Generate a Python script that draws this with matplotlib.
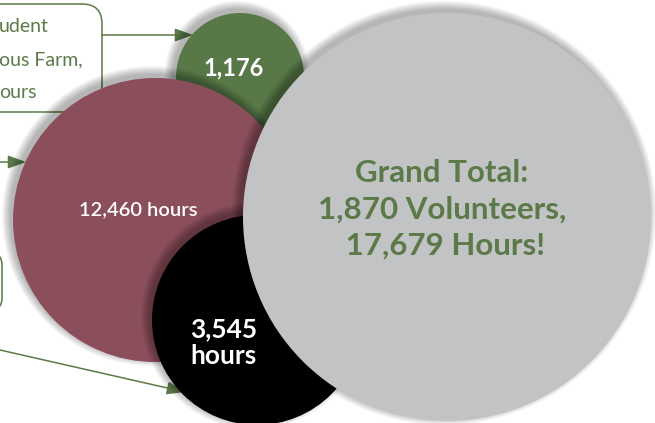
import matplotlib.pyplot as plt
from matplotlib.patches import Circle, FancyBboxPatch

# datos del gráfico
etiquetas = ["1,176", "12,460 hours", "3,545\nhours"]
colores = ["#587848", "#8b4f5c", "#000000"]
total_txt = ["Grand Total:", "1,870 Volunteers,", " 17,679 Hours!"]
nota_txt = ["udent", "ous Farm,", "ours"]

verde = "#5b7a48"
gris = "#c2c3c5"

# posiciones (pixeles)
centros = [(240, 77), (155, 220), (257, 320)]
radios = [64, 142, 105]
centro_total, radio_total = (447, 217), 204

fig = plt.figure(figsize=(6.55, 4.23), dpi=100)
ax = fig.add_axes([0, 0, 1, 1])
ax.set_xlim(0, 655)
ax.set_ylim(423, 0)
ax.set_aspect("equal")
ax.axis("off")

def sombra(c, r, z):
    for k in range(10):
        ax.add_patch(Circle((c[0] - 3, c[1] - 4), r + k * 0.9, color="black",
                            alpha=0.03, lw=0, zorder=z))

# cajas de nota
ax.add_patch(FancyBboxPatch((-60, 4), 162, 108, boxstyle="round,pad=0,rounding_size=20",
                            fc="white", ec=verde, lw=1.1, zorder=1))
ax.add_patch(FancyBboxPatch((-80, 253), 82, 57, boxstyle="round,pad=0,rounding_size=12",
                            fc="white", ec=verde, lw=1.1, zorder=1))
for i, t in enumerate(nota_txt):
    ax.text(-1, 27 + i * 32.5, t, color=verde, fontsize=14, family="Lato",
            ha="left", va="center", zorder=2)

# flechas
flechas = [((102, 35), (193, 35)), ((0, 162), (26, 162)), ((0, 350), (185, 392))]
for a, b in flechas:
    ax.annotate("", xy=b, xytext=a, zorder=1.5,
                arrowprops=dict(arrowstyle="-|>,head_length=1.1,head_width=0.4",
                                color=verde, lw=1.1, shrinkA=0, shrinkB=0))

# círculos
for n in range(3):
    z = 3 + n * 2
    sombra(centros[n], radios[n], z)
    ax.add_patch(Circle(centros[n], radios[n], color=colores[n], lw=0, zorder=z + 0.5))

sombra(centro_total, radio_total, 10)
ax.add_patch(Circle(centro_total, radio_total, color=gris, lw=0, zorder=10.5))

# textos
pos_txt = [(234, 68), (138, 210), (224, 343)]
tam_txt = [17, 14.5, 19]
peso = ["bold", "semibold", "bold"]
for i in range(3):
    ax.text(pos_txt[i][0], pos_txt[i][1], etiquetas[i], color="white", fontsize=tam_txt[i],
            fontweight=peso[i], family="Lato", ha="center", va="center",
            linespacing=1.15, zorder=6 + i * 2)

for i, t in enumerate(total_txt):
    ax.text(442, 173 + i * 36.5, t, color=verde, fontsize=22.5, fontweight="bold",
            family="Lato", ha="center", va="center", zorder=12)

fig.savefig("out.png", dpi=100)
